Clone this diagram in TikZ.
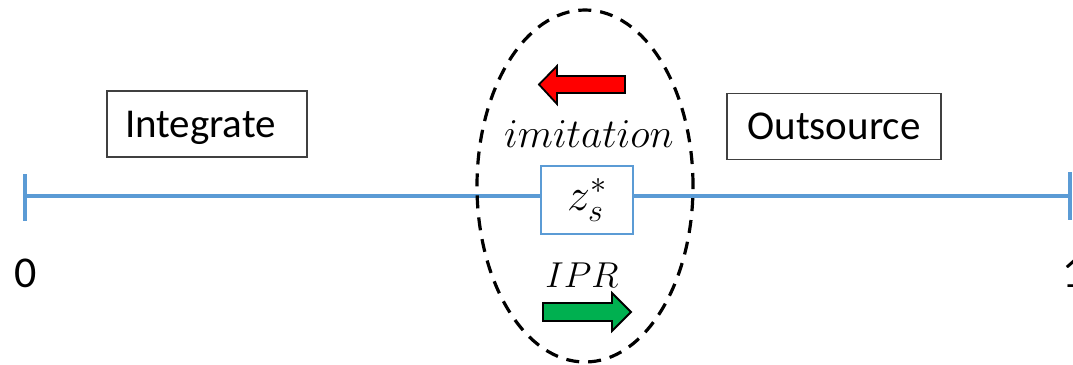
\RequirePackage{fix-cm}
\documentclass[tikz,border=0pt]{standalone}
\usepackage[no-math]{fontspec}
\setmainfont{Carlito}
\usetikzlibrary{shapes.geometric}
\definecolor{axisblue}{RGB}{91,155,213}
\definecolor{boxgray}{RGB}{64,64,64}
\definecolor{arrowred}{RGB}{255,0,0}
\definecolor{arrowgreen}{RGB}{0,176,80}
\tikzset{
  axisline/.style={draw=axisblue, line width=4.5pt},
  tickline/.style={draw=axisblue, line width=3.5pt},
  labelbox/.style={draw=boxgray, line width=1.3pt, fill=white, font=\fontsize{41}{45}\selectfont,
    text height=26.5pt, text depth=0pt, inner xsep=0pt, minimum height=66pt},
  zbox/.style={draw=axisblue, line width=1.6pt, fill=white, minimum width=92pt, minimum height=68pt, inner sep=0pt,
    font=\fontsize{46}{50}\selectfont},
  numlabel/.style={font=\fontsize{44}{48}\selectfont, inner sep=0pt},
  mathlabel/.style={inner sep=0pt},
  oval/.style={ellipse, draw=black, line width=3.2pt, dash pattern=on 13pt off 9pt, inner sep=0pt,
    minimum width=216pt, minimum height=352pt},
  blockarrow/.style={draw=black, line width=1.8pt, line join=miter}
}
\begin{document}
\begin{tikzpicture}[x=1pt,y=-1pt]
\useasboundingbox (0,0) rectangle (1073,364);
% axis
\coordinate (L) at (25,196);
\coordinate (R) at (1070,196);
\coordinate (Lt) at (25,174);
\coordinate (Lb) at (25,221);
\coordinate (Rt) at (1070,172);
\coordinate (Rb) at (1070,220);
\draw[axisline] (L) -- (R);
\draw[tickline] (Lt) -- (Lb);
\draw[tickline] (Rt) -- (Rb);
% end labels
\node[numlabel, anchor=base] (zero) at (26,287) {0};
\node[numlabel, anchor=base west] (one) at (1062,287) {1};
% boxes
\node[labelbox, minimum width=200pt, text width=164pt, align=left] (integ) at (207,124) {Integrate};
\node[labelbox, minimum width=214pt] (outs) at (834,126.5) {Outsource};
\node[zbox] (zs) at (587,200) {$z_s^*$};
% labels in oval
\node[mathlabel, anchor=base] (imit) at (589,147) {\fontsize{41}{45}\selectfont$imitation$};
\node[mathlabel, anchor=base] (ipr) at (582,287) {\fontsize{36}{40}\selectfont$IPR$};
% arrows
\draw[blockarrow, fill=arrowred]
  (539,84.5) -- (557,66) -- (557,76) -- (625,76) -- (625,93) -- (557,93) -- (557,104) -- cycle;
\draw[blockarrow, fill=arrowgreen]
  (631,312) -- (612,293) -- (612,303) -- (543,303) -- (543,321) -- (612,321) -- (612,331) -- cycle;
% oval
\node[oval] (ov) at (585,186) {};
\end{tikzpicture}
\end{document}
